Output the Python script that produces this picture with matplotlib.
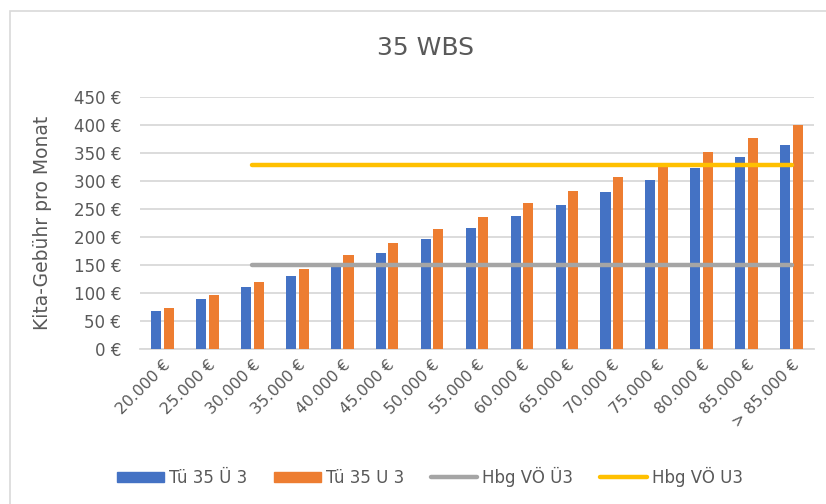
import matplotlib
matplotlib.use("Agg")
import matplotlib.pyplot as plt
import numpy as np
from matplotlib.patches import Rectangle
from matplotlib.lines import Line2D
from matplotlib.patches import Patch

plt.rcParams['font.family'] = ['DejaVu Sans']

categories = ["20.000 €", "25.000 €", "30.000 €", "35.000 €", "40.000 €", "45.000 €",
              "50.000 €", "55.000 €", "60.000 €", "65.000 €", "70.000 €", "75.000 €",
              "80.000 €", "85.000 €", "> 85.000 €"]
tue_ue3 = [67, 89, 110, 131, 151, 172, 196, 216, 238, 258, 280, 302, 323, 343, 365]
tue_u3 = [73, 97, 119, 143, 167, 189, 214, 236, 260, 282, 308, 330, 352, 377, 400]
hbg_ue3 = [np.nan, np.nan] + [150] * 13
hbg_u3 = [np.nan, np.nan] + [329] * 13
yticks = [0, 50, 100, 150, 200, 250, 300, 350, 400, 450]

W, H = 826, 504
fig = plt.figure(figsize=(W / 100, H / 100), dpi=100)
txt = '#595959'

# chart border
fig.patches.append(Rectangle((10 / W, -0.1), 1.2, 1 - 11 / H + 0.1, transform=fig.transFigure,
                             fill=False, edgecolor='#d9d9d9', linewidth=1.2))

left, right = 140 / W, 814 / W
bottom, top = 1 - 348.7 / H, 1 - 97.3 / H
ax = fig.add_axes([left, bottom, right - left, top - bottom])

x = np.arange(len(categories))
bw = 0.225
ax.bar(x - 0.14, tue_ue3, width=bw, color='#4472C4', zorder=3, label='Tü 35 Ü 3')
ax.bar(x + 0.14, tue_u3, width=bw, color='#ED7D31', zorder=3, label='Tü 35 U 3')
ax.plot(x, hbg_ue3, color='#A5A5A5', lw=3.2, solid_capstyle='round', zorder=4, label='Hbg VÖ Ü3')
ax.plot(x, hbg_u3, color='#FFC000', lw=3.2, solid_capstyle='round', zorder=4, label='Hbg VÖ U3')

ax.set_xlim(-0.5, len(categories) - 0.5)
ax.set_ylim(0, 450)
ax.set_yticks(yticks)
ax.set_yticklabels([f"{v} €" for v in yticks])
ax.yaxis.grid(True, color='#d9d9d9', lw=1.3, zorder=0)
for s in ['top', 'right', 'left']:
    ax.spines[s].set_visible(False)
ax.spines['bottom'].set_color('#d9d9d9')
ax.spines['bottom'].set_linewidth(1.3)
ax.tick_params(axis='y', length=0, pad=13.5, labelsize=12, labelcolor=txt)
ax.tick_params(axis='x', length=0, pad=6, labelsize=11.3, labelcolor=txt)
ax.set_xticks(x)
ax.set_xticklabels(categories, rotation=45, ha='right', rotation_mode='anchor')
ax.set_ylabel('Kita-Gebühr pro Monat', fontsize=13.5, color=txt)
ax.yaxis.set_label_coords(-(140 - 52) / (814 - 140), 0.5)

fig.text(425 / W, 1 - 48 / H, '35 WBS', ha='center', va='center', fontsize=18, color=txt)

handles = [Patch(color='#4472C4'), Patch(color='#ED7D31'),
           Line2D([], [], color='#A5A5A5', lw=3.2, solid_capstyle='round'),
           Line2D([], [], color='#FFC000', lw=3.2, solid_capstyle='round')]
labels = ['Tü 35 Ü 3', 'Tü 35 U 3', 'Hbg VÖ Ü3', 'Hbg VÖ U3']
fig.legend(handles, labels, loc='center', bbox_to_anchor=(430 / W, 1 - 477 / H), ncol=4,
           frameon=False, fontsize=12, labelcolor=txt, handlelength=2.8, handleheight=0.6,
           handletextpad=0.3, columnspacing=1.6)

fig.savefig('out.png', dpi=100)
